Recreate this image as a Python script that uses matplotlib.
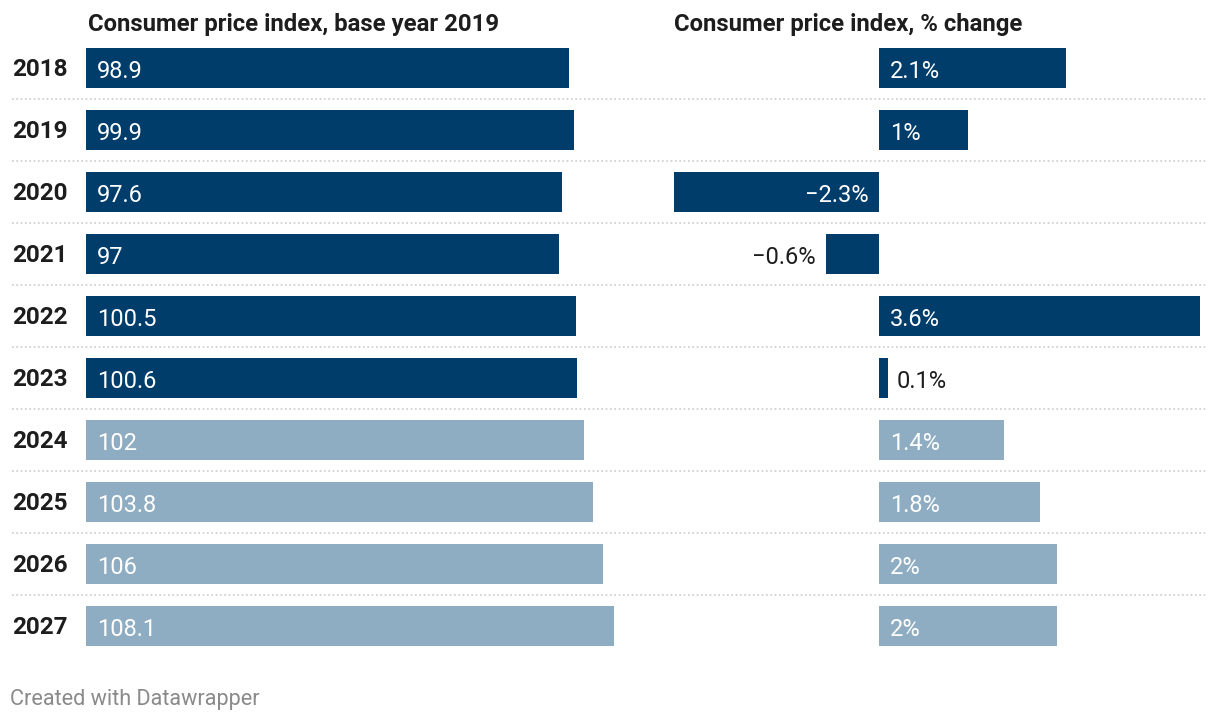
import matplotlib
matplotlib.use("Agg")
import matplotlib.pyplot as plt

# ---------------------------------------------------------------------------
# Data
# ---------------------------------------------------------------------------
years = ["2018", "2019", "2020", "2021", "2022", "2023", "2024", "2025", "2026", "2027"]
cpi_index = [98.9, 99.9, 97.6, 97.0, 100.5, 100.6, 102.0, 103.8, 106.0, 108.1]
cpi_change = [2.1, 1.0, -2.3, -0.6, 3.6, 0.1, 1.4, 1.8, 2.0, 2.0]
is_forecast = [False] * 6 + [True] * 4

index_labels = ["98.9", "99.9", "97.6", "97", "100.5", "100.6", "102", "103.8", "106", "108.1"]
change_labels = ["2.1%", "1%", "\u22122.3%", "\u22120.6%", "3.6%", "0.1%", "1.4%", "1.8%", "2%", "2%"]

title_left = "Consumer price index, base year 2019"
title_right = "Consumer price index, % change"
footer = "Created with Datawrapper"

DARK = "#003d6b"
LIGHT = "#8fadc2"
TEXT = "#1d1d1d"
GRID = "#cccccc"

plt.rcParams["font.family"] = ["Roboto", "DejaVu Sans"]

W, H = 1220, 722
fig = plt.figure(figsize=(W / 100, H / 100), dpi=100)


def px_axes(x0, y0, x1, y1):
    """Axes from pixel box (top-left origin)."""
    return fig.add_axes([x0 / W, 1 - y1 / H, (x1 - x0) / W, (y1 - y0) / H])


ROW_TOP, ROW_BOT = 37, 657
n = len(years)
colors = [LIGHT if f else DARK for f in is_forecast]
bar_h = 40 / 62
VAL_FS = 17
DY = -3  # nudge value labels down to optical centre

# background axes: separators + year labels
bg = px_axes(12, ROW_TOP, 1208, ROW_BOT)
bg.set_xlim(0, 1)
bg.set_ylim(n - 0.5, -0.5)
bg.axis("off")
for i in range(n - 1):
    bg.axhline(i + 0.5, color=GRID, lw=1.2, ls=(0, (1, 1.6)))
for i, y in enumerate(years):
    bg.text(0, i + 0.02, y, ha="left", va="center", fontsize=17.5, fontweight="bold", color=TEXT)

# left panel
axl = px_axes(86, ROW_TOP, 640, ROW_BOT)
axl.set_xlim(0, (640 - 86) / 4.88)
axl.set_ylim(n - 0.5, -0.5)
axl.axis("off")
axl.barh(range(n), cpi_index, height=bar_h, color=colors)
for i, lab in enumerate(index_labels):
    axl.annotate(lab, (0, i), xytext=(11, DY), textcoords="offset pixels",
                 ha="left", va="center", fontsize=VAL_FS, color="white")

# right panel
axr = px_axes(674, ROW_TOP, 1200, ROW_BOT)
axr.set_xlim(min(cpi_change), max(cpi_change))
axr.set_ylim(n - 0.5, -0.5)
axr.axis("off")
axr.barh(range(n), cpi_change, height=bar_h, color=colors)
for i, (v, lab) in enumerate(zip(cpi_change, change_labels)):
    if v >= 0.5:
        axr.annotate(lab, (0, i), xytext=(11, DY), textcoords="offset pixels",
                     ha="left", va="center", fontsize=VAL_FS, color="white")
    elif v >= 0:
        axr.annotate(lab, (v, i), xytext=(9, DY), textcoords="offset pixels",
                     ha="left", va="center", fontsize=VAL_FS, color=TEXT)
    elif v <= -1:
        axr.annotate(lab, (0, i), xytext=(-10, DY), textcoords="offset pixels",
                     ha="right", va="center", fontsize=VAL_FS, color="white")
    else:
        axr.annotate(lab, (v, i), xytext=(-10, DY), textcoords="offset pixels",
                     ha="right", va="center", fontsize=VAL_FS, color=TEXT)

# titles
fig.text(88 / W, 1 - 25 / H, title_left, ha="left", va="center",
         fontsize=17.2, fontweight="bold", color=TEXT)
fig.text(674 / W, 1 - 25 / H, title_right, ha="left", va="center",
         fontsize=17.2, fontweight="bold", color=TEXT)
fig.text(10 / W, 1 - 700 / H, footer, ha="left", va="center",
         fontsize=15.6, color="#8a8a8a")

fig.savefig("out.png", dpi=100)
